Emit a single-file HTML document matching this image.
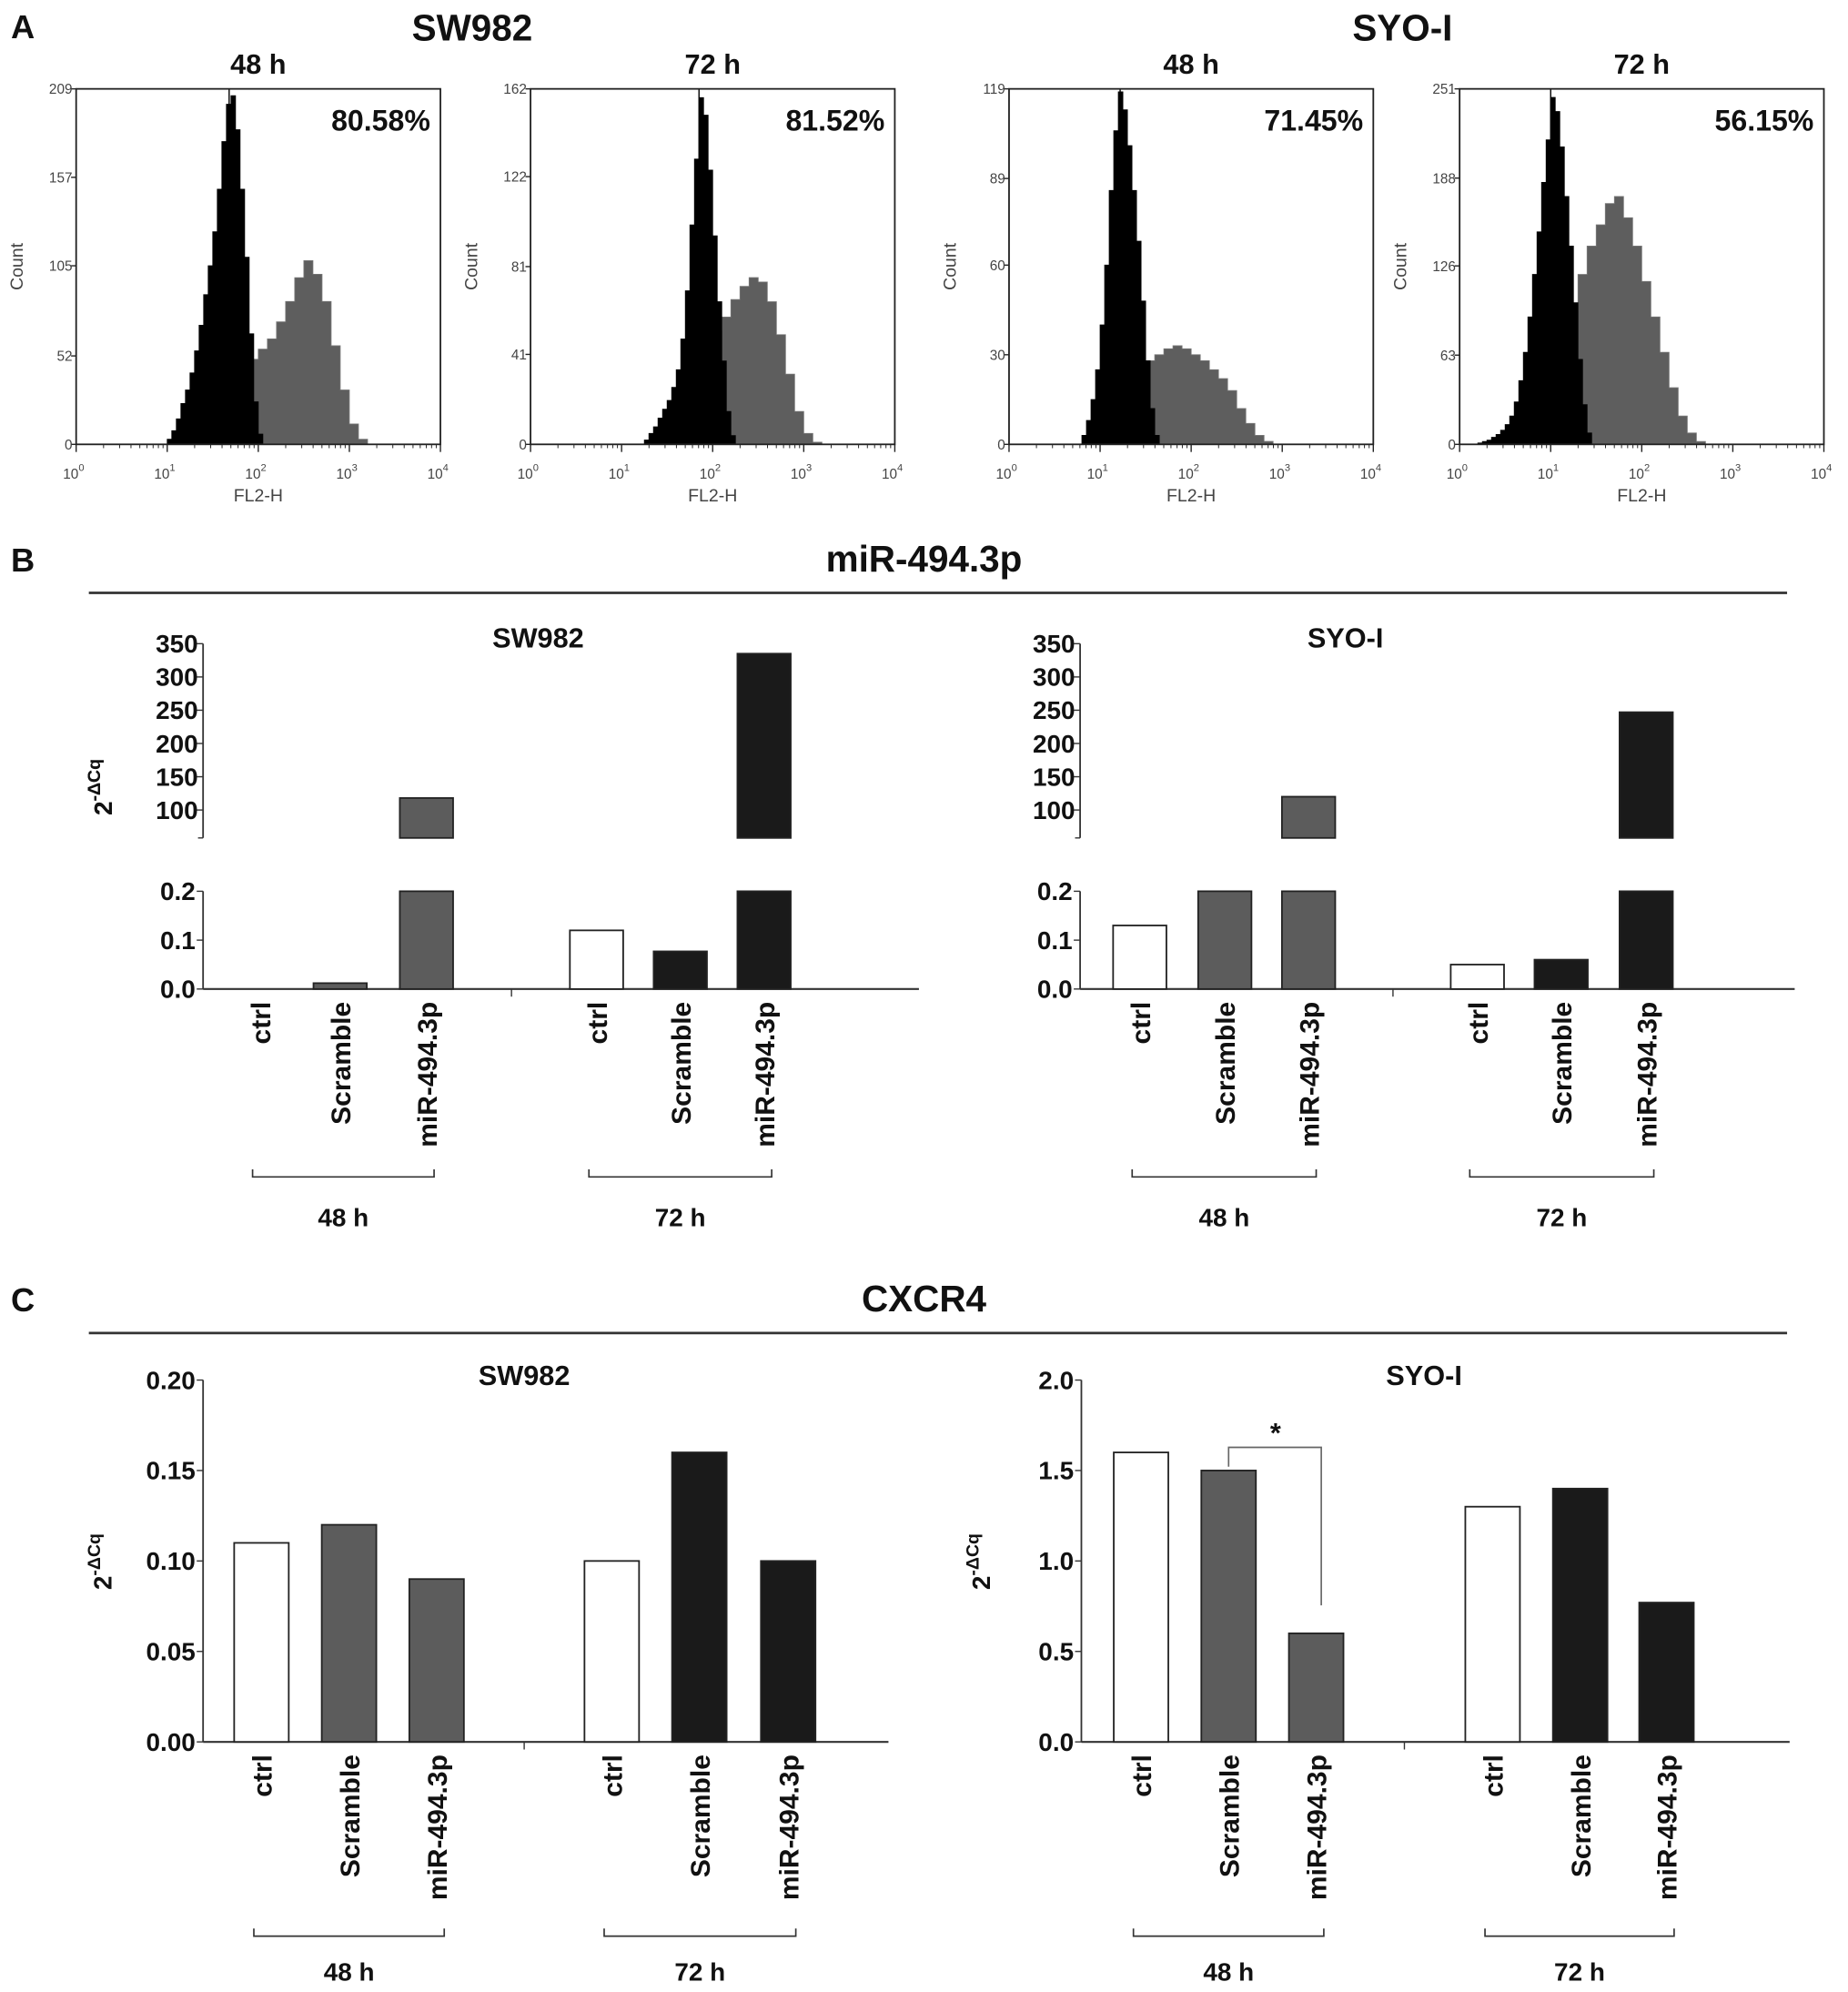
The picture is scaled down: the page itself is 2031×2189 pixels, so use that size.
<!DOCTYPE html>
<html><head><meta charset="utf-8"><style>
html,body{margin:0;padding:0;background:#fff;}
svg{display:block;}
text{font-family:"Liberation Sans",Arial,sans-serif;}
</style></head><body>
<svg id="fig" width="2031" height="2189" viewBox="0 0 1456 1569" preserveAspectRatio="none" xmlns="http://www.w3.org/2000/svg"></svg>
<script>
// ===== Panel A histogram data (log10 FL2-H bins) =====
const histTitles = ["48 h","72 h","48 h","72 h"];
const histPercents = ["80.58%","81.52%","71.45%","56.15%"];
const histMax = [209,162,119,251];
const histYTicks = [[0,52,105,157,209],[0,41,81,122,162],[0,30,60,89,119],[0,63,126,188,251]];
const histPeakLog = [1.68,1.85,1.22,1.0];
const blackStart = [0.95,1.2,0.75,0.15];
const blackStep = [0.05,0.05,0.05,0.05];
const blackCounts = [
 [0,3,8,15,24,32,42,55,70,88,105,125,150,178,200,205,185,150,110,65,25,6,0],
 [0,2,5,8,12,16,20,26,34,48,70,100,130,158,150,125,95,65,38,15,4,0],
 [0,3,8,15,25,40,60,85,105,118,112,100,85,68,48,28,12,3,0],
 [0,1,2,3,5,7,10,14,20,30,45,65,90,120,150,185,215,245,235,210,175,140,100,60,28,8,0]
];
const grayStart = [1.3,1.5,1.1,0.7];
const grayStep = [0.1,0.1,0.1,0.1];
const grayCounts = [
 [6,18,28,36,42,46,50,56,62,72,84,98,108,100,84,58,32,12,3,0],
 [5,15,25,35,45,52,58,66,72,76,74,65,50,32,15,5,1,0],
 [3,10,18,24,28,30,32,33,32,30,28,25,22,18,12,7,3,1,0,0],
 [2,8,20,40,65,95,120,140,155,170,175,160,140,115,90,65,40,20,8,2,0]
];
const histLeft = [60,418,795,1150];

// ===== Panel B/C bar data =====
const groupLabels = ["48 h","72 h"];
const barCategories = ["ctrl","Scramble","miR-494.3p"];
const bSW982_48 = [0.0, 0.012, 118];
const bSW982_72 = [0.12, 0.077, 335];
const bSYO_48 = [0.13, 0.2, 120];
const bSYO_72 = [0.05, 0.06, 247];
const bUpperTicks = [100,150,200,250,300,350];
const bLowerTicks = [0.0,0.1,0.2];
const cSW982_48 = [0.11, 0.12, 0.09];
const cSW982_72 = [0.10, 0.16, 0.10];
const cSYO_48 = [1.6, 1.5, 0.6];
const cSYO_72 = [1.3, 1.4, 0.77];
const cSWTicks = [0.00,0.05,0.10,0.15,0.20];
const cSYOTicks = [0.0,0.5,1.0,1.5,2.0];

const NS="http://www.w3.org/2000/svg";
const svg=document.getElementById('fig');
function el(tag,attrs,parent){const e=document.createElementNS(NS,tag);for(const k in attrs)e.setAttribute(k,attrs[k]);(parent||svg).appendChild(e);return e;}
function txt(s,x,y,size,opts,parent){opts=opts||{};const t=el('text',{x:x,y:y,'font-size':size,'font-weight':opts.w||'bold','text-anchor':opts.a||'middle',fill:opts.f||'#111'},parent);if(opts.rot)t.setAttribute('transform','rotate(-90 '+x+' '+y+')');t.textContent=s;return t;}

let t;
t=txt("A",18,30,26,{a:'middle'});
t=txt("SW982",372,32,29);
t=txt("SYO-I",1105,32,29);

// ===== Histograms =====
for(let p=0;p<4;p++){
  const g=el('g',{});
  
  
  const L=histLeft[p],R=L+287,T=70,B=350;
  const xs=v=>L+v/4*(R-L);
  const ys=v=>B-v/histMax[p]*(B-T);
  t=txt(histTitles[p],(L+R)/2,58,22,{},g);
  let d='M'+xs(grayStart[p])+' '+B;
  grayCounts[p].forEach((c,i)=>{const x0=xs(grayStart[p]+i*grayStep[p]),x1=xs(grayStart[p]+(i+1)*grayStep[p]);d+=' L'+x0+' '+ys(c)+' L'+x1+' '+ys(c);});
  d+=' L'+xs(grayStart[p]+grayCounts[p].length*grayStep[p])+' '+B+' Z';
  const gp=el('path',{d:d,fill:'#5e5e5e',stroke:'#777','stroke-width':0.6},g);
  
  d='M'+xs(blackStart[p])+' '+B;
  blackCounts[p].forEach((c,i)=>{const x0=xs(blackStart[p]+i*blackStep[p]),x1=xs(blackStart[p]+(i+1)*blackStep[p]);d+=' L'+x0+' '+ys(c)+' L'+x1+' '+ys(c);});
  d+=' L'+xs(blackStart[p]+blackCounts[p].length*blackStep[p])+' '+B+' Z';
  const bp=el('path',{d:d,fill:'#000',stroke:'#000','stroke-width':0.6},g);
  
  el('line',{x1:xs(histPeakLog[p]),x2:xs(histPeakLog[p]),y1:T,y2:B,stroke:'#000','stroke-width':1},g);
  const box=el('rect',{x:L,y:T,width:R-L,height:B-T,fill:'none',stroke:'#222','stroke-width':1.3},g);
  
  histYTicks[p].forEach(v=>{el('line',{x1:L-4,x2:L,y1:ys(v),y2:ys(v),stroke:'#222'},g);
    t=txt(String(v),L-3,ys(v)+4,11,{w:'normal',a:'end',f:'#444'},g);});
  for(let e=0;e<=4;e++){el('line',{x1:xs(e),x2:xs(e),y1:B,y2:B+6,stroke:'#222'},g);
    if(e<4)for(let m=2;m<10;m++){const xm=xs(e+Math.log10(m));el('line',{x1:xm,x2:xm,y1:B,y2:B+3,stroke:'#222','stroke-width':0.7},g);}
    const tl=el('text',{x:xs(e)-2,y:B+27,'font-size':11,'text-anchor':'middle',fill:'#444'},g);
    
    tl.textContent='10';const sp=el('tspan',{dy:-6,'font-size':8},tl);sp.textContent=String(e);}
  t=txt("FL2-H",(L+R)/2,395,14,{w:'normal',f:'#444'},g);
  t=txt("Count",L-42,210,14,{w:'normal',f:'#444',rot:true},g);
  t=txt(histPercents[p],R-8,103,23,{a:'end'},g);
}

t=txt("B",18,450,26);
t=txt("miR-494.3p",728,450,29);
let ln=el('line',{x1:70,x2:1408,y1:467,y2:467,stroke:'#333','stroke-width':2});
t=txt("C",18,1033,26);
t=txt("CXCR4",728,1033,29);
ln=el('line',{x1:70,x2:1408,y1:1050,y2:1050,stroke:'#333','stroke-width':2});

const fills48=['#fff','#5c5c5c','#5c5c5c'];
const fills72=['#fff','#1a1a1a','#1a1a1a'];

function yLabel(x,y,g){const tl=el('text',{x:x,y:y,'font-size':20,'font-weight':'bold','text-anchor':'middle',fill:'#111',transform:'rotate(-90 '+x+' '+y+')'},g);
  
  tl.textContent='2';const s=el('tspan',{dy:-9,'font-size':14},tl);s.textContent='-ΔCq';}

function catLabels(g,centers,topY,bracketY,hY){
  centers.forEach((grp,gi)=>{grp.forEach((cx,i)=>{const tl=txt(barCategories[i],cx+8,topY,21.5,{a:'end',rot:true},g);
      });
    const x0=grp[0]-6,x1=grp[2]+6;
    const br=el('path',{d:'M'+x0+' '+(bracketY-6)+' L'+x0+' '+bracketY+' L'+x1+' '+bracketY+' L'+x1+' '+(bracketY-6),fill:'none',stroke:'#333','stroke-width':1.2},g);
    
    const gl=txt(groupLabels[gi],(grp[0]+grp[2])/2,hY,20,{},g);});
}

function brokenChart(name,title,axX,axEnd,titleX,c48,c72,d48,d72,bracketY){
  const g=el('g',{});
  
  
  const uy=v=>638-(v-100)*(131/250), ly=v=>779-v*385;
  const uBot=660, lTop=702, bw=42;
  t=txt(title,titleX,510,22,{},g);
  el('line',{x1:axX,x2:axX,y1:uy(350),y2:uBot,stroke:'#333','stroke-width':1.3},g);
  el('line',{x1:axX,x2:axX,y1:lTop,y2:779,stroke:'#333','stroke-width':1.3},g);
  el('line',{x1:axX,x2:axEnd,y1:779,y2:779,stroke:'#333','stroke-width':1.5},g);
  el('line',{x1:axX-4,x2:axX,y1:uBot,y2:uBot,stroke:'#333'},g);
  bUpperTicks.forEach(v=>{el('line',{x1:axX-5,x2:axX,y1:uy(v),y2:uy(v),stroke:'#333'},g);
    const tl=txt(String(v),axX-4,uy(v)+7,20,{a:'end'},g);});
  bLowerTicks.forEach(v=>{el('line',{x1:axX-5,x2:axX,y1:ly(v),y2:ly(v),stroke:'#333'},g);
    const tl=txt(v.toFixed(1),axX-6,ly(v)+7,20,{a:'end'},g);});
  const mid=(c48[2]+c72[0])/2;el('line',{x1:mid,x2:mid,y1:779,y2:785,stroke:'#333'},g);
  yLabel(88,620,g);
  [[c48,d48,fills48,'48h'],[c72,d72,fills72,'72h']].forEach(([cs,vals,fills,gname])=>{
    cs.forEach((cx,i)=>{const v=vals[i];
      const lv=Math.min(v,0.2);
      const r=el('rect',{x:cx-bw/2,y:ly(lv),width:bw,height:779-ly(lv),fill:fills[i],stroke:'#222','stroke-width':1.3},g);
      
      if(v>0.2&&v>=60){const r2=el('rect',{x:cx-bw/2,y:uy(v),width:bw,height:uBot-uy(v),fill:fills[i],stroke:'#222','stroke-width':1.3},g);
        }
    });});
  catLabels(g,[c48,c72],789,bracketY,966);
}
brokenChart('mir-sw982-chart','SW982',160,724,424,[205,268,336],[470,536,602],bSW982_48,bSW982_72,927);
brokenChart('mir-syoi-chart','SYO-I',851,1414,1060,[898,965,1031],[1164,1230,1297],bSYO_48,bSYO_72,927);

function simpleChart(name,title,axX,axEnd,titleX,ticks,dec,c48,c72,d48,d72,ylx){
  const g=el('g',{});
  
  
  const max=ticks[ticks.length-1];
  const y=v=>1372-v/max*285, bw=43;
  t=txt(title,titleX,1091,22,{},g);
  el('line',{x1:axX,x2:axX,y1:y(max),y2:1372,stroke:'#333','stroke-width':1.3},g);
  el('line',{x1:axX,x2:axEnd,y1:1372,y2:1372,stroke:'#333','stroke-width':1.5},g);
  ticks.forEach(v=>{el('line',{x1:axX-5,x2:axX,y1:y(v),y2:y(v),stroke:'#333'},g);
    const tl=txt(v.toFixed(dec),axX-6,y(v)+7,20,{a:'end'},g);});
  const mid=(c48[2]+c72[0])/2;el('line',{x1:mid,x2:mid,y1:1372,y2:1378,stroke:'#333'},g);
  yLabel(ylx,1230,g);
  [[c48,d48,fills48,'48h'],[c72,d72,fills72,'72h']].forEach(([cs,vals,fills,gname])=>{
    cs.forEach((cx,i)=>{const r=el('rect',{x:cx-bw/2,y:y(vals[i]),width:bw,height:1372-y(vals[i]),fill:fills[i],stroke:'#222','stroke-width':1.3},g);
      });});
  catLabels(g,[c48,c72],1382,1525,1560);
  return {g:g,y:y};
}
simpleChart('cxcr4-sw982-chart','SW982',160,700,413,cSWTicks,2,[206,275,344],[482,551,621],cSW982_48,cSW982_72,88);
const cSY=simpleChart('cxcr4-syoi-chart','SYO-I',852,1410,1122,cSYOTicks,1,[899,968,1037],[1176,1245,1313],cSYO_48,cSYO_72,780);
const sigTop=cSY.y(cSYO_48[0])-4;
const sig=el('path',{d:'M968 '+(cSY.y(cSYO_48[1])-3)+' L968 '+sigTop+' L1041 '+sigTop+' L1041 '+(cSY.y(cSYO_48[2])-22),fill:'none',stroke:'#666','stroke-width':1.2},cSY.g);

t=txt("*",1005,sigTop-4,22,{},cSY.g);
</script>
</body></html>
